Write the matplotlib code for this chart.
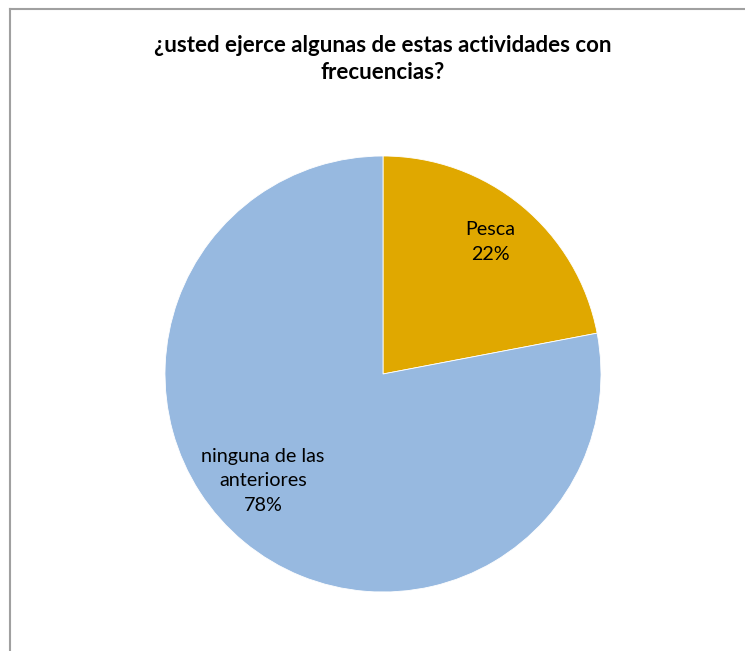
import matplotlib
matplotlib.use("Agg")
import matplotlib.pyplot as plt
from matplotlib.lines import Line2D

categories = ["Pesca", "ninguna de las\nanteriores"]
values = [22, 78]
colors = ["#E0A800", "#97B9E0"]
title = "¿usted ejerce algunas de estas actividades con\nfrecuencias?"

W, H = 745, 651
fig = plt.figure(figsize=(W / 100, H / 100), dpi=100)
plt.rcParams['font.family'] = ['Lato', 'DejaVu Sans']

# frame (top and left lines only visible)
fig.add_artist(Line2D([10 / W, 1], [1 - 9 / H, 1 - 9 / H], color="#a0a0a0", lw=1.5, transform=fig.transFigure))
fig.add_artist(Line2D([10 / W, 10 / W], [0, 1 - 9 / H], color="#a0a0a0", lw=1.5, transform=fig.transFigure))

cx, cy, r = 383, 374, 218
ax = fig.add_axes([(cx - r) / W, (H - cy - r) / H, 2 * r / W, 2 * r / H])
wedges, texts = ax.pie(values, colors=colors, startangle=90, counterclock=False,
                       radius=1, wedgeprops=dict(linewidth=0.6, edgecolor="white"))
ax.set_xlim(-1, 1)
ax.set_ylim(-1, 1)
ax.set_aspect("equal")
ax.axis("off")

# labels
lbl_pos = [(490, 242), (263, 481)]
for cat, v, (px, py) in zip(categories, values, lbl_pos):
    fig.text(px / W, 1 - py / H, f"{cat}\n{v}%", ha="center", va="center",
             fontsize=14.2, color="black", linespacing=1.55)

fig.text(383 / W, 1 - 59 / H, title, ha="center", va="center", fontsize=16,
         fontweight="bold", linespacing=1.3)

fig.savefig("out.png", dpi=100)
